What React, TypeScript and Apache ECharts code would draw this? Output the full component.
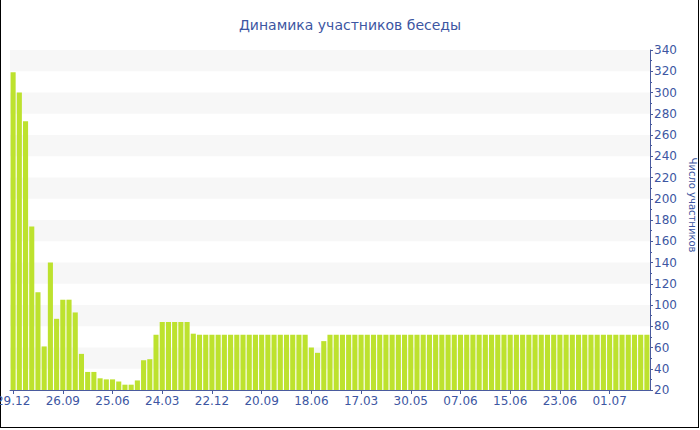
import React, { useEffect, useRef } from "react";
import * as echarts from "echarts";

const TITLE = "Динамика участников беседы";
const Y_NAME = "Число участников";

const categories: string[] = [
  "29.12", "01.02", "07.03", "10.04", "14.05", "17.06", "21.07", "24.08",
  "26.09", "30.10", "03.12", "06.01", "09.02", "15.03", "18.04", "22.05",
  "25.06", "29.07", "01.09", "05.10", "08.11", "12.12", "15.01", "18.02",
  "24.03", "27.04", "31.05", "04.07", "07.08", "10.09", "14.10", "17.11",
  "22.12", "25.01", "28.02", "03.04", "07.05", "10.06", "14.07", "17.08",
  "20.09", "24.10", "27.11", "31.12", "03.02", "09.03", "12.04", "16.05",
  "18.06", "22.07", "25.08", "28.09", "01.11", "05.12", "08.01", "11.02",
  "17.03", "20.04", "24.05", "25.05", "26.05", "27.05", "28.05", "29.05",
  "30.05", "31.05", "01.06", "02.06", "03.06", "04.06", "05.06", "06.06",
  "07.06", "08.06", "09.06", "10.06", "11.06", "12.06", "13.06", "14.06",
  "15.06", "16.06", "17.06", "18.06", "19.06", "20.06", "21.06", "22.06",
  "23.06", "24.06", "25.06", "26.06", "27.06", "28.06", "29.06", "30.06",
  "01.07", "02.07", "03.07", "04.07", "05.07", "06.07", "07.07",
];

const participants: number[] = [
  319, 300, 273, 174, 112, 61, 140, 87,
  105, 105, 93, 54, 37, 37, 31, 30,
  30, 28, 25, 25, 29, 48, 49, 72,
  84, 84, 84, 84, 84, 73, 72, 72,
  72, 72, 72, 72, 72, 72, 72, 72,
  72, 72, 72, 72, 72, 72, 72, 72,
  60, 55, 66, 72, 72, 72, 72, 72,
  72, 72, 72, 72, 72, 72, 72, 72,
  72, 72, 72, 72, 72, 72, 72, 72,
  72, 72, 72, 72, 72, 72, 72, 72,
  72, 72, 72, 72, 72, 72, 72, 72,
  72, 72, 72, 72, 72, 72, 72, 72,
  72, 72, 72, 72, 72, 72, 72,
];

const Y_MIN = 20;
const Y_MAX = 340;
const Y_STEP = 20;

const FONT = "DejaVu Sans";
const AXIS_COLOR = "#4a5b9e";
const TEXT_COLOR = "#3d56a2";

export default function App() {
  const ref = useRef<HTMLDivElement>(null);

  useEffect(() => {
    if (!ref.current) return;
    const chart = echarts.init(ref.current, null, { renderer: "svg" });
    chart.setOption({
      animation: false,
      backgroundColor: "#ffffff",
      title: {
        text: TITLE,
        left: "center",
        top: 13,
        textStyle: {
          fontFamily: FONT,
          fontSize: 14,
          fontWeight: "normal",
          color: TEXT_COLOR,
        },
      },
      grid: {
        left: 10,
        right: 50,
        top: 50,
        bottom: 40,
        containLabel: false,
        outerBoundsMode: "none",
      },
      xAxis: {
        type: "category",
        data: categories,
        boundaryGap: true,
        axisLine: { show: true, lineStyle: { color: AXIS_COLOR, width: 1 } },
        axisTick: {
          show: true,
          alignWithLabel: true,
          interval: 7,
          length: 4,
          lineStyle: { color: AXIS_COLOR },
        },
        axisLabel: {
          interval: 7,
          color: TEXT_COLOR,
          fontFamily: FONT,
          fontSize: 12,
          margin: 5,
          hideOverlap: false,
        },
        splitLine: { show: false },
      },
      yAxis: {
        type: "value",
        position: "right",
        min: Y_MIN,
        max: Y_MAX,
        interval: Y_STEP,
        name: Y_NAME,
        nameLocation: "middle",
        nameRotate: -90,
        nameGap: 37,
        nameTextStyle: {
          fontFamily: FONT,
          fontSize: 10,
          color: TEXT_COLOR,
          padding: [0, 30, 0, 0],
        },
        axisLine: { show: true, lineStyle: { color: AXIS_COLOR, width: 1 } },
        axisTick: { show: true, length: 3, lineStyle: { color: AXIS_COLOR } },
        minorTick: {
          show: true,
          splitNumber: 2,
          length: 2,
          lineStyle: { color: AXIS_COLOR },
        },
        axisLabel: {
          color: TEXT_COLOR,
          fontFamily: FONT,
          fontSize: 12,
          margin: 4,
        },
        splitLine: { show: false },
        splitArea: {
          show: true,
          areaStyle: { color: ["rgba(255,255,255,0)", "#f7f7f7"] },
        },
      },
      series: [
        {
          type: "bar",
          data: participants,
          barCategoryGap: "18%",
          itemStyle: { color: "#bde22e" },
        },
      ],
      graphic: [
        {
          type: "line",
          shape: { x1: 0.5, y1: 0, x2: 0.5, y2: 428 },
          style: { stroke: "#000", lineWidth: 1 },
        },
        {
          type: "line",
          shape: { x1: 698.5, y1: 0, x2: 698.5, y2: 428 },
          style: { stroke: "#000", lineWidth: 1 },
        },
        {
          type: "line",
          shape: { x1: 0, y1: 427.5, x2: 699, y2: 427.5 },
          style: { stroke: "#000", lineWidth: 1 },
        },
      ],
    });
    return () => chart.dispose();
  }, []);

  return (
    <div
      ref={ref}
      style={{ position: "absolute", left: 0, top: 0, width: 700, height: 430 }}
    />
  );
}
